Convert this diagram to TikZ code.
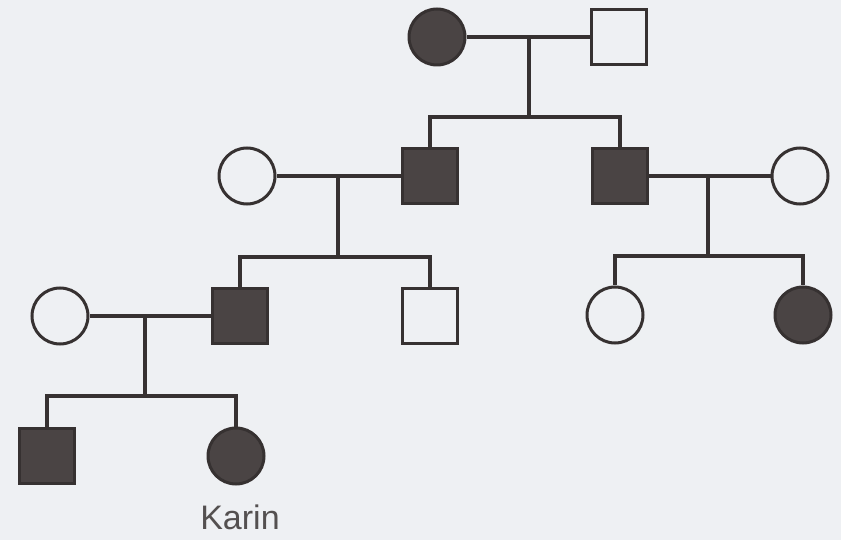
\documentclass[tikz,border=0pt]{standalone}
\usepackage{fontspec}
\setmainfont{Liberation Sans}
\definecolor{paper}{HTML}{EEF0F3}
\definecolor{ink}{HTML}{363131}
\definecolor{affected}{HTML}{4A4444}
\begin{document}
\begin{tikzpicture}[x=1pt,y=-1pt,
  line width=3.3pt,
  link/.style={draw=ink,line width=3.3pt},
  female/.style={circle,draw=ink,line width=3pt,minimum size=56pt,inner sep=0pt},
  male/.style={rectangle,draw=ink,line width=3pt,minimum size=55pt,inner sep=0pt},
  hit/.style={fill=affected},
  clear/.style={fill=none}]
\fill[paper] (0,0) rectangle (841,540);
\useasboundingbox (0,0) rectangle (841,540);

% generation I
\node[female,hit] (g1f) at (437,37) {};
\node[male,clear] (g1m) at (619,37) {};
% generation II
\node[female,clear] (g2w) at (247,176) {};
\node[male,hit] (g2a) at (430,176) {};
\node[male,hit] (g2b) at (620,176) {};
\node[female,clear] (g2x) at (800,176) {};
% generation III
\node[female,clear] (g3w) at (60,316) {};
\node[male,hit] (g3a) at (240,316) {};
\node[male,clear] (g3b) at (430,316) {};
\node[female,clear] (g3c) at (615,315) {};
\node[female,hit] (g3d) at (803,315) {};
% generation IV
\node[male,hit] (g4a) at (47,456) {};
\node[female,hit] (g4b) at (236,456) {};
\node[font=\fontsize{34}{34}\selectfont,text=ink!85,anchor=base] (karin) at (240,529) {Karin};

% couples and their drop points
\coordinate (c1) at (529,37);  \coordinate (d1) at (529,117);
\coordinate (c2) at (338,176); \coordinate (d2) at (338,257);
\coordinate (c3) at (708,176); \coordinate (d3) at (708,256);
\coordinate (c4) at (145,316); \coordinate (d4) at (145,396);

\draw[link] (g1f) -- (g1m);
\draw[link] (g2w) -- (g2a);
\draw[link] (g2b) -- (g2x);
\draw[link] (g3w) -- (g3a);

\draw[link] (c1) -- (d1);
\draw[link] (c2) -- (d2);
\draw[link] (c3) -- (d3);
\draw[link] (c4) -- (d4);

\draw[link] (g2a.north) |- (d1) -| (g2b.north);
\draw[link] (g3a.north) |- (d2) -| (g3b.north);
\draw[link] (g3c.north) |- (d3) -| (g3d.north);
\draw[link] (g4a.north) |- (d4) -| (g4b.north);
\end{tikzpicture}
\end{document}
